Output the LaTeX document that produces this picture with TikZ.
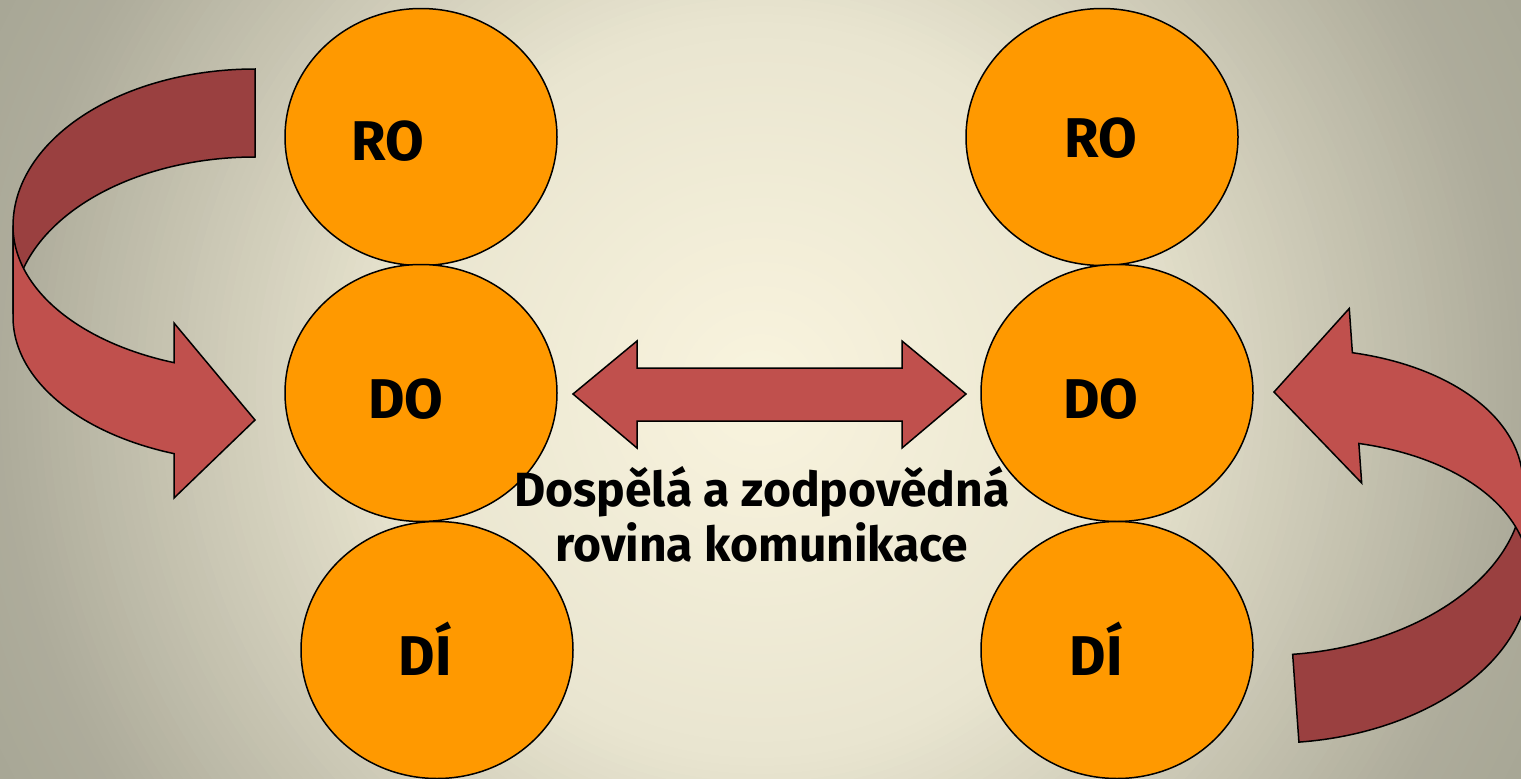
\documentclass[tikz,border=0pt]{standalone}
\usepackage{fontspec}
\setmainfont{Fira Sans}
\usetikzlibrary{shapes.geometric}
\definecolor{bgA}{HTML}{F9F4DE}
\definecolor{bgB}{HTML}{E9E5D0}
\definecolor{bgC}{HTML}{AEAC9B}
\definecolor{bgD}{HTML}{A8A796}
\definecolor{orangefill}{HTML}{FF9900}
\definecolor{lightred}{HTML}{C0504D}
\definecolor{darkred}{HTML}{9A4040}
\tikzset{
  circ/.style={ellipse, draw=black, line width=1.5pt, fill=orangefill, inner sep=0pt, minimum width=272pt, minimum height=257pt},
  lbl/.style={font=\fontsize{56}{60}\selectfont\bfseries, anchor=base, inner sep=0pt},
  midtext/.style={font=\fontsize{48}{55}\selectfont\bfseries, align=center, inner sep=0pt},
  darkarrow/.style={fill=darkred, draw=black, line width=1.5pt},
  lightarrow/.style={fill=lightred, draw=black, line width=1.5pt}
}
\newcommand\curvedarrowshapes{%
  \filldraw[darkarrow] plot[domain=270:180,samples=60] ({255+242*cos(\x)},{226+157*sin(\x)}) -- (13,314) -- plot[domain=180:270,samples=60] ({255+242*cos(\x)},{314+157*sin(\x)}) -- cycle;
  \filldraw[lightarrow] (13,226) -- (13,317) -- plot[domain=180:109.55,samples=60] ({255+242*cos(\x)},{317+145*sin(\x)}) -- (174,498) -- (255,420) -- (174,323) -- plot[domain=109.55:180,samples=60] ({255+242*cos(\x)},{226+145*sin(\x)}) -- cycle;
}
\begin{document}
\begin{tikzpicture}[x=1pt,y=-1pt]
\useasboundingbox (0,0) rectangle (1521,779);
\begin{scope}
\clip (0,0) rectangle (1521,779);
\fill[bgD] (0,0) rectangle (1521,779);
% radial background built from concentric discs
\foreach \r in {864,856,...,4}{
  \ifdim \r pt > 757pt
    \pgfmathsetmacro\p{min(100,(\r-757)/97*100)}
    \colorlet{cur}{bgD!\p!bgC}
  \else\ifdim \r pt > 370pt
    \pgfmathsetmacro\p{(\r-370)/387*100}
    \colorlet{cur}{bgC!\p!bgB}
  \else
    \pgfmathsetmacro\p{\r/370*100}
    \colorlet{cur}{bgB!\p!bgA}
  \fi\fi
  \fill[cur] (760,390) circle[radius=\r pt];
}
% left curved arrow
\curvedarrowshapes
% right curved arrow (same shape turned round)
\begin{scope}[shift={(1274,392)}, rotate=184.07, shift={(-255,-420)}]
\curvedarrowshapes
\end{scope}
% circles
\node[circ] (lro) at (421,137) {};
\node[circ] (ldo) at (421,393) {};
\node[circ] (ldi) at (437,650) {};
\node[circ] (rro) at (1102,137) {};
\node[circ] (rdo) at (1117,393) {};
\node[circ] (rdi) at (1117,650) {};
% double arrow between the DO circles
\filldraw[lightarrow] (573,394) -- (637,341) -- (637,368) -- (902,368) -- (902,341) -- (966,394) -- (902,448) -- (902,421) -- (637,421) -- (637,448) -- cycle;
% labels
\node[lbl] (tlro) at (388,160) {RO};
\node[lbl] (tldo) at (406,418) {DO};
\node[lbl] (tldi) at (425,675) {DÍ};
\node[lbl] (trro) at (1101,157) {RO};
\node[lbl] (trdo) at (1101,418) {DO};
\node[lbl] (trdi) at (1096,675) {DÍ};
\node[midtext] (mid) at (762,514) {Dospělá a zodpovědná\\rovina komunikace};
\end{scope}
\end{tikzpicture}
\end{document}
